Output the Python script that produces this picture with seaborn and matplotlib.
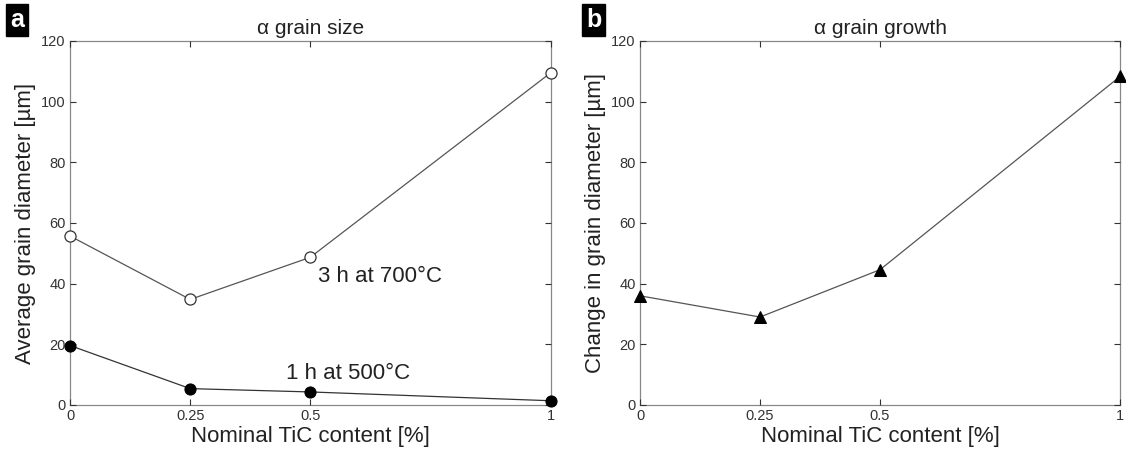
import matplotlib
matplotlib.use("Agg")
import matplotlib.pyplot as plt
import seaborn as sns
import pandas as pd

sns.set_theme(style="white")
plt.rcParams['font.family'] = ['Liberation Sans', 'DejaVu Sans']

tic = [0, 0.25, 0.5, 1]
tic_labels = ["0", "0.25", "0.5", "1"]
size_700C_3h = [55.7, 34.8, 48.7, 109.5]
size_500C_1h = [19.6, 5.4, 4.3, 1.4]
growth = [36.0, 29.0, 44.6, 108.3]

fig = plt.figure(figsize=(11.26, 4.57), dpi=100)
ax1 = fig.add_axes([0.0622, 0.1138, 0.4268, 0.7965])
ax2 = fig.add_axes([0.5684, 0.1138, 0.4263, 0.7965])

df_a = pd.DataFrame({"x": tic * 2, "y": size_700C_3h + size_500C_1h,
                     "s": ["700"] * 4 + ["500"] * 4})
sns.lineplot(data=df_a[df_a.s == "700"], x="x", y="y", ax=ax1, color="#555555",
             lw=0.9, marker="o", markersize=8, markerfacecolor="white",
             markeredgecolor="#333333", markeredgewidth=0.9, clip_on=False)
sns.lineplot(data=df_a[df_a.s == "500"], x="x", y="y", ax=ax1, color="#333333",
             lw=0.9, marker="o", markersize=8, markerfacecolor="black",
             markeredgecolor="black", clip_on=False)
sns.lineplot(x=tic, y=growth, ax=ax2, color="#555555", lw=0.9, marker="^",
             markersize=9, markerfacecolor="black", markeredgecolor="black",
             clip_on=False)

for ax, ylab, title in [(ax1, "Average grain diameter [µm]", "α grain size"),
                        (ax2, "Change in grain diameter [µm]", "α grain growth")]:
    ax.set_xlim(0, 1)
    ax.set_ylim(0, 120)
    ax.set_xticks(tic)
    ax.set_xticklabels(tic_labels)
    ax.set_yticks([0, 20, 40, 60, 80, 100, 120])
    ax.tick_params(direction="in", length=4, width=0.8, colors="#333333",
                   labelsize=10.5, top=True, right=True, bottom=True, left=True,
                   pad=3)
    for sp in ax.spines.values():
        sp.set_visible(True)
        sp.set_color("#888888")
        sp.set_linewidth(0.9)
        sp.set_zorder(0.5)
    ax.set_xlabel("Nominal TiC content [%]", fontsize=16, color="#222222", labelpad=2)
    ax.set_ylabel(ylab, fontsize=16, color="#222222", labelpad=4)
    ax.set_title(title, fontsize=15, color="#222222", pad=5)

ax1.text(0.515, 42.5, "3 h at 700°C", fontsize=16, color="#222222", ha="left", va="center")
ax1.text(0.45, 10.5, "1 h at 500°C", fontsize=16, color="#222222", ha="left", va="center")

for lab, xpos in [("a", 0.009), ("b", 0.5205)]:
    fig.text(xpos, 0.956, lab, fontsize=18, fontweight="bold", color="white",
             ha="left", va="center",
             bbox=dict(boxstyle="square,pad=0.15", facecolor="black", edgecolor="black"))

fig.savefig("out.png", dpi=100)
